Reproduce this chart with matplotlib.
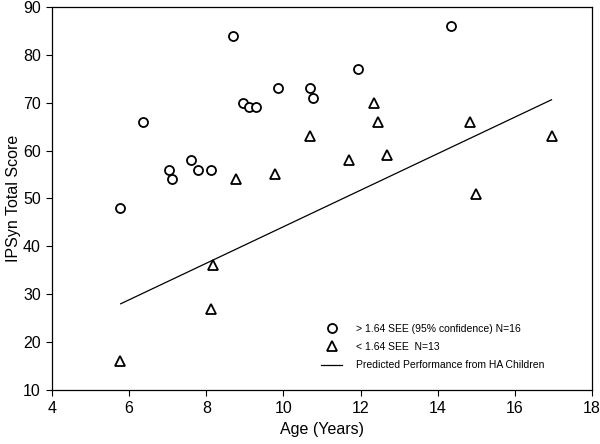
import matplotlib
matplotlib.use("Agg")
import matplotlib.pyplot as plt
from matplotlib.lines import Line2D

plt.rcParams['font.family'] = ['Liberation Sans', 'DejaVu Sans']

# > 1.64 SEE group (circles)
above_age = [5.76, 6.37, 7.03, 7.12, 7.60, 7.78, 8.11, 8.68, 8.94, 9.11, 9.28, 9.85, 10.68, 10.77, 11.93, 14.34]
above_score = [48, 66, 56, 54, 58, 56, 56, 84, 70, 69, 69, 73, 73, 71, 77, 86]

# < 1.64 SEE group (triangles)
below_age = [5.76, 8.11, 8.18, 8.78, 9.78, 10.70, 11.69, 12.34, 12.44, 12.68, 14.83, 15.0, 16.97]
below_score = [16, 27, 36, 54, 55, 63, 58, 70, 66, 59, 66, 51, 63]

# Predicted performance line endpoints
pred_age = [5.78, 16.95]
pred_score = [28.0, 70.6]

x_ticks = [4, 6, 8, 10, 12, 14, 16, 18]
y_ticks = [10, 20, 30, 40, 50, 60, 70, 80, 90]

fig = plt.figure(figsize=(6.0, 4.44), dpi=100)
ax = fig.add_axes([0.0867, 0.1216, 0.9, 0.863])

ax.plot(pred_age, pred_score, color='black', lw=0.9, zorder=1)
ax.plot(above_age, above_score, linestyle='none', marker='o', ms=6.5,
        mfc='white', mec='black', mew=1.3, zorder=3)
ax.plot(below_age, below_score, linestyle='none', marker='^', ms=6.5,
        mfc='white', mec='black', mew=1.3, zorder=3)

ax.set_xlim(4, 18)
ax.set_ylim(10, 90)
ax.set_xticks(x_ticks)
ax.set_yticks(y_ticks)
ax.tick_params(direction='out', length=4, width=0.8, labelsize=11.5, pad=4,
               top=False, right=False)
for s in ax.spines.values():
    s.set_linewidth(0.9)

ax.set_xlabel('Age (Years)', fontsize=11.5, labelpad=4)
ax.set_ylabel('IPSyn Total Score', fontsize=11.5, labelpad=1.5)

handles = [
    Line2D([], [], linestyle='none', marker='o', ms=6.5, mfc='white', mec='black', mew=1.3),
    Line2D([], [], linestyle='none', marker='^', ms=6.5, mfc='white', mec='black', mew=1.3),
    Line2D([], [], color='black', lw=0.9),
]
labels = ['> 1.64 SEE (95% confidence) N=16', '< 1.64 SEE  N=13',
          'Predicted Performance from HA Children']
ax.legend(handles, labels, loc='upper left', bbox_to_anchor=(0.527, 0.282),
          bbox_transform=fig.transFigure, frameon=False, fontsize=7.5,
          handlelength=2.0, handletextpad=1.35, labelspacing=0.78, borderpad=0)

fig.savefig('out.png', dpi=100)
